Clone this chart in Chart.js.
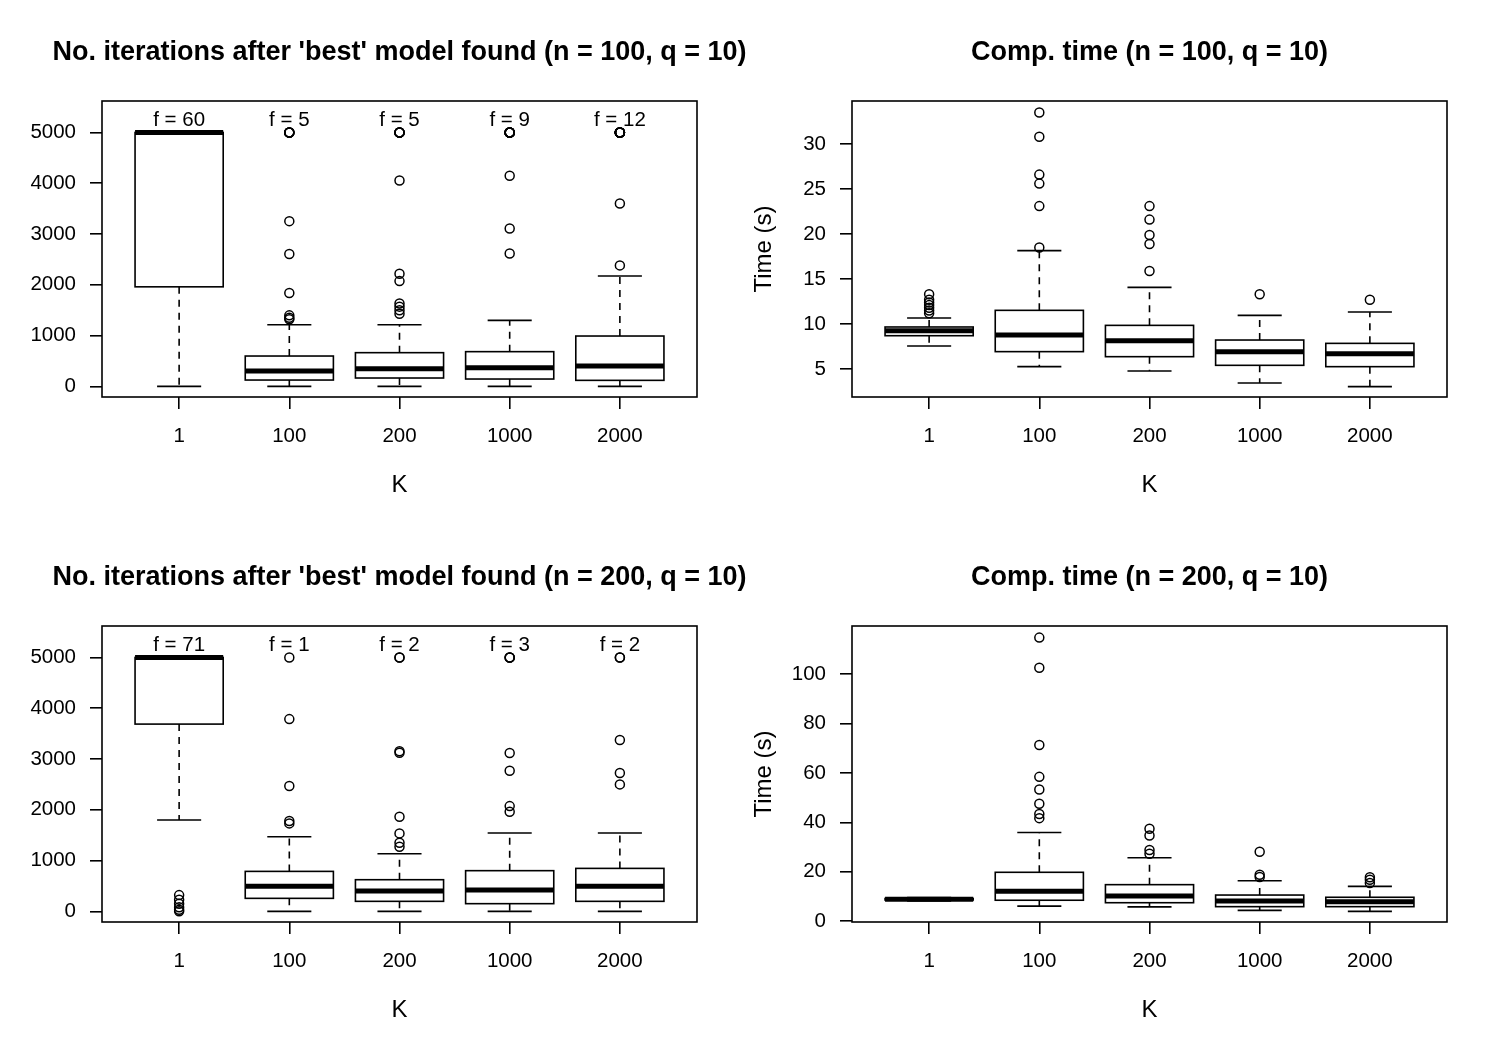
<!DOCTYPE html>
<html lang="en">
<head>
  <meta charset="UTF-8">
  <title>Iterations and computation time by K</title>
  <style>
    html, body { margin: 0; padding: 0; background: #fff; overflow: hidden; }
    #wrap { position: relative; width: 1500px; height: 1050px; overflow: hidden; }
    .panel { position: absolute; width: 799px; height: 525px; }
  </style>
</head>
<body>
  <div id="wrap">
    <div class="panel" style="left:0;top:0"><canvas id="c1" width="799" height="525"></canvas></div>
    <div class="panel" style="left:750px;top:0"><canvas id="c2" width="799" height="525"></canvas></div>
    <div class="panel" style="left:0;top:525px"><canvas id="c3" width="799" height="525"></canvas></div>
    <div class="panel" style="left:750px;top:525px"><canvas id="c4" width="799" height="525"></canvas></div>
  </div>

  <script src="https://cdn.jsdelivr.net/npm/chart.js"></script>
  <script>
    const categories = ['1', '100', '200', '1000', '2000'];

    // box stats per K: [lower whisker, Q1, median, Q3, upper whisker]
    const iterN100Box = [
      [0, 1960, 5000, 5000, 5000],
      [0, 124, 302, 597, 1214],
      [0, 164, 348, 663, 1214],
      [0, 144, 367, 683, 1299],
      [0, 118, 400, 991, 2172]
    ];
    const iterN100Out = [
      [],
      [5000, 5000, 5000, 5000, 5000, 3254, 2605, 1837, 1398, 1350, 1320],
      [5000, 5000, 5000, 5000, 5000, 4055, 2218, 2073, 1630, 1570, 1500, 1430],
      [5000, 5000, 5000, 5000, 5000, 5000, 5000, 5000, 5000, 4147, 3110, 2618],
      [5000, 5000, 5000, 5000, 5000, 5000, 5000, 5000, 5000, 5000, 5000, 5000, 3602, 2382]
    ];
    const iterN100F = [60, 5, 5, 9, 12];

    const timeN100Box = [
      [7.56, 8.7, 9.26, 9.67, 10.67],
      [5.26, 6.93, 8.78, 11.52, 18.15],
      [4.78, 6.37, 8.15, 9.85, 14.07],
      [3.44, 5.41, 6.93, 8.22, 10.96],
      [3.04, 5.26, 6.7, 7.85, 11.33]
    ];
    const timeN100Out = [
      [13.3, 12.7, 12.4, 12.1, 11.8, 11.5, 11.2],
      [33.5, 30.8, 26.6, 25.6, 23.1, 18.5],
      [23.1, 21.6, 19.9, 18.9, 15.9],
      [13.3],
      [12.7]
    ];

    const iterN200Box = [
      [1798, 3688, 5000, 5000, 5000],
      [0, 256, 492, 787, 1470],
      [0, 197, 400, 623, 1135],
      [0, 151, 420, 801, 1542],
      [0, 197, 492, 846, 1542]
    ];
    const iterN200Out = [
      [320, 230, 150, 80, 30, 0],
      [5000, 3786, 2467, 1778, 1732],
      [5000, 5000, 3155, 3123, 1864, 1535, 1352, 1273],
      [5000, 5000, 5000, 3117, 2769, 2073, 1962],
      [5000, 5000, 3373, 2723, 2500]
    ];
    const iterN200F = [71, 1, 2, 3, 2];

    const timeN200Box = [
      [8.2, 8.6, 8.9, 9.2, 9.6],
      [6.1, 8.5, 12.1, 19.8, 35.9],
      [5.8, 7.5, 10.2, 14.8, 25.7],
      [4.4, 5.9, 8.2, 10.6, 16.4],
      [4.0, 5.9, 7.9, 9.7, 14.1]
    ];
    const timeN200Out = [
      [],
      [114.7, 102.5, 71.3, 58.4, 53.3, 47.5, 43.4, 41.7],
      [37.4, 34.7, 28.8, 27.3],
      [28.1, 18.8, 17.9],
      [17.8, 16.8, 15.5]
    ];

    const iterTicks = [0, 1000, 2000, 3000, 4000, 5000];
    const timeN100Ticks = [5, 10, 15, 20, 25, 30];
    const timeN200Ticks = [0, 20, 40, 60, 80, 100];

    Chart.defaults.font.family = '"Liberation Sans", Arial, sans-serif';
    Chart.defaults.color = '#000';

    // draws boxes, whiskers, medians, "f =" labels and the frame
    const boxPlot = {
      id: 'boxPlot',
      afterDatasetsDraw(chart, args, opts) {
        const { ctx, chartArea: a, scales: { x, y } } = chart;
        ctx.save();
        ctx.strokeStyle = '#000';
        opts.boxes.forEach((b, i) => {
          const k = i + 1;
          const xc = x.getPixelForValue(k);
          const x0 = x.getPixelForValue(k - 0.4), x1 = x.getPixelForValue(k + 0.4);
          const c0 = x.getPixelForValue(k - 0.2), c1 = x.getPixelForValue(k + 0.2);
          const [lo, q1, med, q3, hi] = b.map(v => y.getPixelForValue(v));
          ctx.lineWidth = 1.6;
          ctx.setLineDash([7, 6]);
          ctx.beginPath();
          ctx.moveTo(xc, q3); ctx.lineTo(xc, hi);
          ctx.moveTo(xc, q1); ctx.lineTo(xc, lo);
          ctx.stroke();
          ctx.setLineDash([]);
          ctx.beginPath();
          ctx.moveTo(c0, hi); ctx.lineTo(c1, hi);
          ctx.moveTo(c0, lo); ctx.lineTo(c1, lo);
          ctx.stroke();
          ctx.strokeRect(x0, q3, x1 - x0, q1 - q3);
          ctx.lineWidth = 5;
          ctx.beginPath();
          ctx.moveTo(x0, med); ctx.lineTo(x1, med);
          ctx.stroke();
        });
        if (opts.f) {
          ctx.fillStyle = '#000';
          ctx.font = '20.5px "Liberation Sans", Arial, sans-serif';
          ctx.textAlign = 'center';
          ctx.textBaseline = 'middle';
          opts.f.forEach((f, i) => {
            ctx.fillText('f = ' + f, x.getPixelForValue(i + 1), y.getPixelForValue(opts.fAt));
          });
        }
        ctx.lineWidth = 1.6;
        ctx.strokeRect(a.left, a.top, a.right - a.left, a.bottom - a.top);
        ctx.restore();
      }
    };

    function makePanel(id, title, boxes, outliers, yMin, yMax, yTicks, yTitle, f) {
      const points = [];
      outliers.forEach((list, i) => list.forEach(v => points.push({ x: i + 1, y: v })));
      new Chart(document.getElementById(id), {
        type: 'scatter',
        data: {
          datasets: [{
            data: points,
            pointStyle: 'circle',
            pointRadius: 4.5,
            pointBorderWidth: 1.5,
            pointBorderColor: '#000',
            pointBackgroundColor: 'rgba(0,0,0,0)'
          }]
        },
        options: {
          responsive: false,
          animation: false,
          events: [],
          layout: { padding: 0 },
          plugins: {
            legend: { display: false },
            tooltip: { enabled: false },
            title: {
              display: true,
              text: title,
              color: '#000',
              font: { size: 27, weight: 'bold' },
              padding: { top: 36, bottom: 32.6 }
            },
            boxPlot: { boxes: boxes, f: f, fAt: 5240 }
          },
          scales: {
            x: {
              type: 'linear',
              min: 0.3,
              max: 5.7,
              afterBuildTicks: s => { s.ticks = categories.map((c, i) => ({ value: i + 1 })); },
              afterFit: s => { s.height = 128; },
              ticks: {
                autoSkip: false,
                maxRotation: 0,
                padding: 15,
                font: { size: 20.5 },
                callback: v => categories[v - 1]
              },
              grid: { drawOnChartArea: false, drawTicks: true, tickLength: 12, color: '#000', lineWidth: 1.6 },
              border: { display: false },
              title: { display: true, text: 'K', font: { size: 24 }, padding: { top: 0, bottom: 25 } }
            },
            y: {
              min: yMin,
              max: yMax,
              afterBuildTicks: s => { s.ticks = yTicks.map(v => ({ value: v })); },
              afterFit: s => { s.width = 102; },
              ticks: {
                padding: 14,
                font: { size: 20.5 },
                callback: v => String(v)
              },
              grid: { drawOnChartArea: false, drawTicks: true, tickLength: 12, color: '#000', lineWidth: 1.6 },
              border: { display: false },
              title: { display: !!yTitle, text: yTitle || '', font: { size: 24 }, padding: { top: 0, bottom: 0 } }
            },
            // empty right margin so the title centres over the plot
            yRight: {
              position: 'right',
              min: 0,
              max: 1,
              afterFit: s => { s.width = 102; },
              ticks: { display: false },
              grid: { display: false },
              border: { display: false }
            }
          }
        },
        plugins: [boxPlot]
      });
    }

    makePanel('c1', "No. iterations after 'best' model found (n = 100, q = 10)",
      iterN100Box, iterN100Out, -210, 5620, iterTicks, null, iterN100F);
    makePanel('c2', 'Comp. time (n = 100, q = 10)',
      timeN100Box, timeN100Out, 1.89, 34.78, timeN100Ticks, 'Time (s)', null);
    makePanel('c3', "No. iterations after 'best' model found (n = 200, q = 10)",
      iterN200Box, iterN200Out, -210, 5620, iterTicks, null, iterN200F);
    makePanel('c4', 'Comp. time (n = 200, q = 10)',
      timeN200Box, timeN200Out, -0.3, 119.4, timeN200Ticks, 'Time (s)', null);
  </script>
</body>
</html>
